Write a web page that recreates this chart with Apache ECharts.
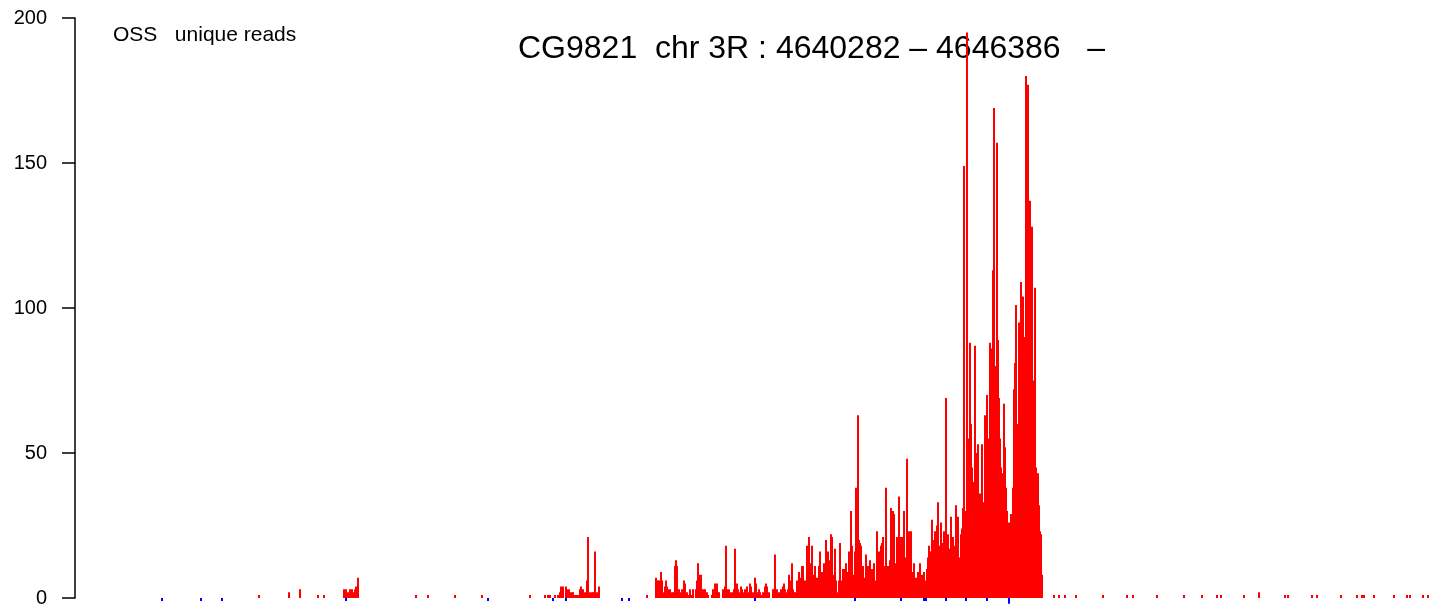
<!DOCTYPE html>
<html>
<head>
<meta charset="utf-8">
<script src="https://cdn.jsdelivr.net/npm/echarts@6/dist/echarts.min.js"></script>
<style>
html,body{margin:0;padding:0;background:#fff;}
#chart{width:1438px;height:613px;}
</style>
</head>
<body>
<div id="chart"></div>
<script>
// Plus-strand (red) read positions and counts
const redPos = [
4640920,4641070,4641125,4641215,4641245,4641345,4641355,4641365,4641375,4641385,4641395,4641400,4641405,4641415,
4641705,4641765,4641900,4642035,4642275,4642350,4642365,4642375,4642400,4642415,4642425,4642430,4642440,4642455,
4642460,4642470,4642475,4642485,4642490,4642500,4642510,4642515,4642525,4642530,4642540,4642550,4642560,4642565,
4642575,4642585,4642590,4642600,4642610,4642620,4642860,
4642905,4642910,4642915,4642920,4642930,4642935,4642940,4642950,4642955,4642960,4642965,4642975,4642985,4642990,
4643000,4643005,4643010,4643020,4643025,4643035,4643045,4643050,4643060,4643065,4643075,4643080,4643090,4643105,
4643110,4643115,4643120,4643130,4643135,4643145,4643150,4643160,4643165,4643185,4643190,4643200,4643210,4643215,
4643220,4643240,4643250,4643255,4643260,4643270,4643275,4643285,4643295,4643300,4643310,4643315,4643320,4643330,
4643335,4643345,4643350,4643360,4643365,4643375,4643380,4643390,4643400,4643405,4643410,4643420,4643425,4643435,
4643440,4643450,4643455,4643460,4643470,4643490,4643495,4643500,4643510,4643515,4643525,4643530,4643540,4643545,
4643550,4643560,4643565,4643570,4643580,4643585,4643590,4643595,4643600,4643610,4643620,
4643625,4643635,4643640,4643650,4643655,4643660,4643670,4643680,4643685,4643690,4643700,4643705,4643710,4643720,
4643725,4643730,4643735,4643740,4643745,4643750,4643755,4643760,4643765,4643770,4643780,4643785,4643790,4643800,
4643805,4643810,4643820,4643825,4643830,4643835,4643840,4643845,4643850,4643855,4643860,4643870,4643875,4643880,
4643885,4643890,4643895,4643900,4643905,4643910,4643915,4643920,4643925,4643930,4643935,4643940,4643950,4643955,
4643960,4643965,4643970,4643975,4643980,4643985,4643990,4643995,4644000,4644010,4644015,4644020,4644025,4644030,
4644035,4644040,4644050,4644055,4644060,4644065,4644070,4644075,4644080,4644090,4644095,4644100,4644110,4644115,
4644120,4644125,4644130,4644135,4644140,4644145,
4644150,4644155,4644160,4644165,4644170,4644175,4644180,4644185,4644190,4644195,4644200,4644205,4644210,4644215,
4644220,4644225,4644230,4644235,4644240,4644245,4644250,4644255,4644260,4644265,4644270,4644275,4644280,4644285,
4644290,4644295,4644300,4644305,4644310,4644315,4644320,4644325,4644330,4644335,4644340,4644345,4644350,4644355,
4644360,4644365,4644370,4644375,4644380,4644385,4644390,4644395,4644400,4644405,4644410,4644415,4644420,4644425,
4644430,4644435,4644440,4644445,4644450,4644455,4644460,4644465,4644470,4644475,4644480,4644485,4644490,4644495,
4644500,4644505,4644510,4644515,4644520,4644525,4644530,4644535,4644540,4644545,4644550,4644555,4644560,4644565,
4644570,4644575,4644580,4644585,4644590,4644595,4644600,4644605,4644610,4644615,4644620,4644625,4644630,4644635,
4644640,4644645,4644650,4644655,4644660,4644665,4644670,4644675,4644680,4644685,4644690,4644695,4644700,4644705,
4644710,4644715,4644720,4644725,4644730,4644735,4644740,4644745,4644750,4644755,4644760,4644765,4644770,4644775,
4644780,4644785,4644790,4644795,4644800,4644805,4644810,4644815,4644820,4644825,4644830,4644835,
4644895,4644920,4644950,4645005,4645140,4645260,4645290,4645410,4645545,4645635,4645710,4645730,4645845,4645920,
4646050,4646065,4646185,4646210,4646330,4646410,4646435,4646445,4646495,4646595,4646660,4646675,4646740,4646765
];
const redVal = [
1,2,3,1,1,3,3,2,3,3,2,3,4,7,
1,1,1,1,1,1,1,1,1,1,2,4,4,4,
3,3,2,2,2,1,1,1,3,4,3,2,6,21,
2,2,2,16,2,4,1,
7,6,6,6,9,6,2,4,6,4,3,3,2,2,
11,13,11,3,2,3,6,5,2,1,3,1,3,3,
6,12,8,8,3,3,3,2,1,1,3,5,5,2,
2,3,4,18,3,3,2,2,3,17,5,3,2,4,
3,2,3,4,2,5,4,2,7,5,2,3,2,1,
2,4,5,4,2,3,3,15,3,2,2,3,4,5,
3,2,3,8,6,12,3,2,2,6,9,
7,11,11,6,3,18,21,12,18,8,11,6,7,11,
16,9,9,7,12,10,20,10,16,13,22,21,8,17,
6,2,6,19,5,6,10,10,7,12,9,16,8,30,
18,8,6,16,38,22,63,20,19,18,10,11,7,15,
9,11,8,13,7,10,8,12,6,23,12,16,10,18,
19,21,11,38,11,11,11,13,31,30,29,12,21,10,
35,10,21,21,12,30,
10,14,48,12,23,8,23,9,6,12,5,7,4,9,
6,12,5,8,3,9,6,4,10,14,18,12,16,27,
15,20,23,14,25,33,18,15,26,12,19,23,16,69,
14,22,17,13,28,16,21,12,18,32,20,28,10,14,
22,24,31,149,18,30,195,55,40,88,60,45,28,40,
87,50,41,53,30,36,23,53,33,20,63,40,70,55,
30,88,60,86,113,169,80,60,157,89,69,55,45,36,
43,67,52,38,30,22,26,18,29,25,38,72,81,101,
60,49,95,80,109,85,104,90,60,180,136,177,94,137,
82,128,68,75,107,45,35,43,32,23,22,8,
1,1,1,1,1,1,1,1,1,1,1,1,1,2,
1,1,1,1,1,1,1,1,1,1,1,1,1,1
];
// Minus-strand (blue) read positions and counts (negative)
const bluePos = [4640435,4640630,4640735,4641355,4642065,4642390,4642455,4642735,4642770,4643400,4643900,4644130,4644245,4644255,4644355,4644455,4644560,4644670];
const blueVal = [-1,-1,-1,-1,-1,-1,-1,-1,-1,-1,-1,-1,-1,-1,-1,-1,-1,-2];
const yTicks = [0, 50, 100, 150, 200];
const titleText = 'CG9821  chr 3R : 4640282 \u2013 4646386   \u2013';
const legendText = 'OSS   unique reads';

const chart = echarts.init(document.getElementById('chart'), null, {renderer: 'canvas'});
const FONT = '"Liberation Sans", Arial, Helvetica, sans-serif';
const redData = redPos.map((p, i) => [p, redVal[i]]);
const blueData = bluePos.map((p, i) => [p, blueVal[i]]);

chart.setOption({
  animation: false,
  backgroundColor: '#ffffff',
  grid: {left: 75, right: 0, top: 18, bottom: 15, containLabel: false},
  xAxis: {type: 'value', min: 4640000, max: 4646815, show: false},
  yAxis: {
    type: 'value', min: yTicks[0], max: yTicks[yTicks.length - 1], interval: 50,
    axisLine: {show: true, lineStyle: {color: '#000', width: 1.5}},
    axisTick: {show: true, length: 13, lineStyle: {color: '#000', width: 1.5}},
    axisLabel: {color: '#000', fontSize: 20, fontFamily: FONT, margin: 28},
    splitLine: {show: false}
  },
  graphic: [
    {type: 'text', left: 113, top: 25, style: {text: legendText, fill: '#000', font: '21px ' + FONT}},
    {type: 'text', x: 518, y: 49, style: {text: titleText, fill: '#000', font: '32px ' + FONT, verticalAlign: 'middle', textVerticalAlign: 'middle'}}
  ],
  series: [
    {type: 'bar', data: redData, barWidth: 2, barGap: '-100%', clip: false,
     itemStyle: {color: '#ff0000'}, z: 2},
    {type: 'bar', data: blueData, barWidth: 2, barGap: '-100%', clip: false,
     itemStyle: {color: '#0000ff'}, z: 3}
  ]
});
</script>
</body>
</html>
